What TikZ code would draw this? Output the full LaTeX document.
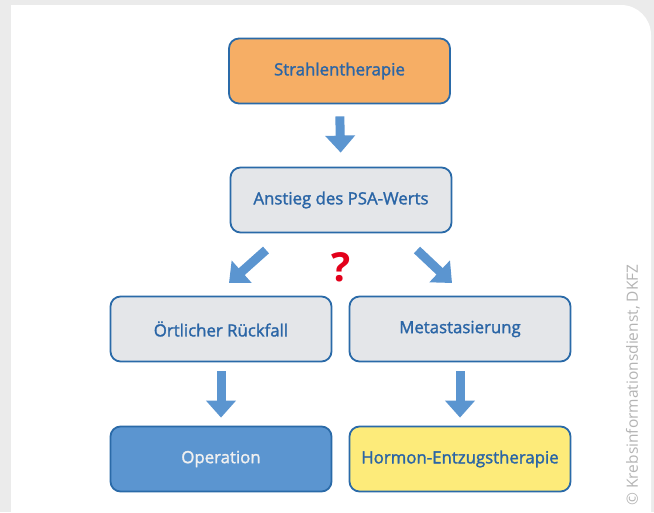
\documentclass[tikz,border=0pt]{standalone}
\usepackage{fontspec}
\setmainfont{Open Sans}
\newfontfamily\semifont{Open Sans}[FakeBold=1.6]
\usetikzlibrary{arrows.meta,calc}
\definecolor{bgray}{HTML}{EBEBEB}
\definecolor{bordblue}{HTML}{2A6AA8}
\definecolor{tblue}{HTML}{2A65A6}
\definecolor{ablue}{HTML}{5B95D0}
\definecolor{orangefill}{HTML}{F6AE65}
\definecolor{grayfill}{HTML}{E4E6E9}
\definecolor{yellowfill}{HTML}{FDEB7A}
\definecolor{qred}{HTML}{E3001B}
\definecolor{cgray}{HTML}{B4B4B4}
\begin{document}
\begin{tikzpicture}[x=1pt,y=-1pt,
  box/.style={rounded corners=10pt, draw=bordblue, line width=1.8pt,
    minimum width=221pt, minimum height=65pt, text=tblue,
    font=\semifont\fontsize{16.8}{20}\selectfont, inner sep=0pt},
  barrow/.style={draw=ablue, line width=9pt, -{Triangle[width=29pt,length=17pt]}}]
\useasboundingbox (0,0) rectangle (654,512);
\fill[bgray] (0,0) rectangle (654,512);
\fill[white] (11,512) -- (11,5) -- (621,5) .. controls (637.6,5) and (651,18.4) .. (651,35) -- (651,512) -- cycle;

\node[box, fill=orangefill] (s) at (339.5,71) {Strahlentherapie};
\node[box, fill=grayfill] (a) at (341,200) {Anstieg des PSA-Werts};
\node[box, fill=grayfill] (r) at (221,329) {Örtlicher Rückfall};
\node[box, fill=grayfill] (m) at (460,329) {Metastasierung};
\node[box, fill=ablue, text=white!94!black] (o) at (221,459) {Operation};
\node[box, fill=yellowfill] (h) at (460,459) {Hormon-Entzugstherapie};

\draw[barrow, shorten <=12pt, shorten >=14pt] (s.south) -- (a.north);
\draw[barrow, shorten <=9pt, shorten >=8pt] (r.south) -- (o.north);
\draw[barrow, shorten <=9pt, shorten >=8pt] (m.south) -- (h.north);

\coordinate (dl1) at (266,250);
\coordinate (dl2) at (229,283);
\coordinate (dr1) at (417,250);
\coordinate (dr2) at (452,283);
\draw[barrow] (dl1) -- (dl2);
\draw[barrow] (dr1) -- (dr2);

\node[text=qred, font=\bfseries\fontsize{40}{44}\selectfont] (q) at (341,267) {?};
\node[rotate=90, text=cgray, font=\fontsize{15.5}{18}\selectfont] (c) at (633,385) {© Krebsinformationsdienst, DKFZ};
\end{tikzpicture}
\end{document}
